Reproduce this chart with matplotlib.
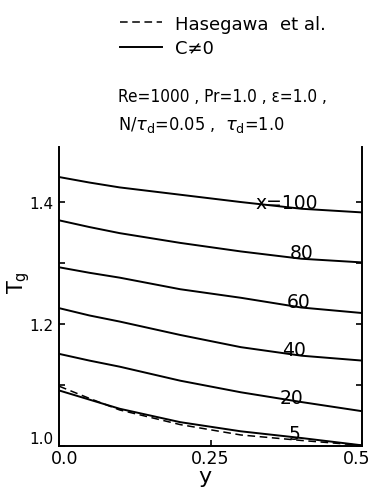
import numpy as np
import matplotlib
matplotlib.use("Agg")
import matplotlib.pyplot as plt
from matplotlib.transforms import ScaledTranslation

# y positions where curves were read
yPos = [0.0, 0.05, 0.1, 0.2, 0.3, 0.4, 0.5]

tg100 = [1.441, 1.432, 1.424, 1.412, 1.400, 1.389, 1.383]
tg80 = [1.370, 1.359, 1.349, 1.333, 1.319, 1.307, 1.301]
tg60 = [1.293, 1.284, 1.276, 1.257, 1.243, 1.227, 1.218]
tg40 = [1.226, 1.214, 1.204, 1.182, 1.162, 1.148, 1.140]
tg20 = [1.151, 1.140, 1.130, 1.107, 1.088, 1.072, 1.057]
tg5 = [1.091, 1.076, 1.061, 1.039, 1.024, 1.013, 1.001]
tgHasegawa = [1.098, 1.078, 1.059, 1.035, 1.018, 1.009, 1.001]

curveLabels = ["x=100", "80", "60", "40", "20", "5"]
labelX = [0.375, 0.400, 0.395, 0.387, 0.383, 0.388]
labelY = [1.391, 1.309, 1.228, 1.149, 1.070, 1.011]

xTicks = [0.0, 0.25, 0.5]
xTickLabels = ["0.0", "0.25", "0.5"]
yTicks = [1.0, 1.1, 1.2, 1.3, 1.4]
yTickLabels = ["1.0", "", "1.2", "", "1.4"]

fig = plt.figure(figsize=(3.74, 4.89), dpi=100)
ax = fig.add_axes([0.158, 0.086, 0.810, 0.611])

lw = 1.4
hDash, = ax.plot(yPos, tgHasegawa, "k--", lw=1.1, dashes=(5, 3))
hSolid = None
for tg in [tg100, tg80, tg60, tg40, tg20, tg5]:
    hSolid, = ax.plot(yPos, tg, "k-", lw=lw)

for lab, lx, ly in zip(curveLabels, labelX, labelY):
    ax.text(lx, ly, lab, fontsize=13.5, ha="center", va="baseline")

ax.set_xlim(0, 0.5)
ax.set_ylim(1.0, 1.49)
ax.set_xticks(xTicks)
ax.set_xticklabels(xTickLabels, fontsize=12.5)
ax.set_yticks(yTicks)
ax.set_yticklabels(yTickLabels, fontsize=11)
ax.tick_params(axis="both", direction="in", length=4, width=1.2)
ax.tick_params(axis="y", right=True, pad=4)
ax.tick_params(axis="x", pad=2)
ax.spines["top"].set_visible(False)
for s in ["left", "right", "bottom"]:
    ax.spines[s].set_linewidth(lw)

ax.get_yticklabels()[0].set_va("bottom")
xl = ax.get_xticklabels()
xl[0].set_transform(xl[0].get_transform() + ScaledTranslation(6 / 100, 0, fig.dpi_scale_trans))
xl[-1].set_transform(xl[-1].get_transform() + ScaledTranslation(-5 / 100, 0, fig.dpi_scale_trans))

ax.set_ylabel(r"T$_{\rm g}$", fontsize=15)
ax.yaxis.set_label_coords(-0.09, 0.55)
ax.set_xlabel("y", fontsize=16)
ax.xaxis.set_label_coords(0.482, -0.068)

fig.legend([hDash, hSolid], ["Hasegawa  et al.", "C\u22600"], loc="upper left",
           bbox_to_anchor=(0.322, 0.968), frameon=False, fontsize=13,
           handlelength=2.3, handletextpad=0.7, labelspacing=0.35,
           borderaxespad=0, borderpad=0)

fig.text(0.315, 1 - 102 / 489, "Re=1000 , Pr=1.0 , \u03b5=1.0 ,", fontsize=12.3, va="baseline",
         fontstretch="condensed")
fig.text(0.315, 1 - 130 / 489, r"N/$\tau_{\rm d}$=0.05 ,  $\tau_{\rm d}$=1.0", fontsize=13, va="baseline",
         fontstretch="condensed")

fig.savefig("out.png", dpi=100)
